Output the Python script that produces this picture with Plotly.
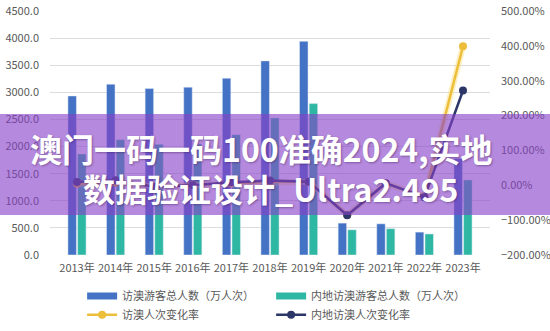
import plotly.graph_objects as go

# Macau visitor arrivals, 2013-2023
years = ["2013年", "2014年", "2015年", "2016年", "2017年", "2018年",
         "2019年", "2020年", "2021年", "2022年", "2023年"]
total_visitors = [2933, 3150, 3070, 3095, 3260, 3580, 3940, 588, 575, 422, 1780]      # 万人次
mainland_visitors = [1863, 2125, 2041, 2045, 2220, 2526, 2792, 465, 485, 388, 1384]   # 万人次
total_change = [0.044, 0.075, -0.026, 0.008, 0.054, 0.098, 0.101, -0.85, 0.05, -0.32, 3.99]
mainland_change = [0.095, 0.141, -0.04, 0.002, 0.085, 0.138, 0.105, -0.86, 0.06, -0.34, 2.72]

BLUE = "#4472C4"
TEAL = "#2EB8A4"
GOLD = "#EDBE3A"
NAVY = "#2C3767"
GREY = "#595959"
FONT = "Noto Sans CJK SC"

fig = go.Figure()

fig.add_bar(x=years, y=total_visitors, marker_color=BLUE, showlegend=False,
            name="访澳游客总人数（万人次）")
fig.add_bar(x=years, y=mainland_visitors, marker_color=TEAL, showlegend=False,
            name="内地访澳游客总人数（万人次）")

# soft halo under the gold line
fig.add_scatter(x=years, y=total_change, yaxis="y2", mode="lines",
                line=dict(color="rgba(248,222,120,0.45)", width=6),
                showlegend=False, hoverinfo="skip")
fig.add_scatter(x=years, y=total_change, yaxis="y2", mode="lines+markers",
                line=dict(color=GOLD, width=2.5), marker=dict(size=8, color=GOLD),
                name="访澳人次变化率", legend="legend2")
fig.add_scatter(x=years, y=mainland_change, yaxis="y2", mode="lines+markers",
                line=dict(color=NAVY, width=2.5), marker=dict(size=8, color=NAVY),
                name="内地访澳人次变化率", legend="legend2")

# legend keys for the bar series, drawn as wide flat swatches
fig.add_scatter(x=[None], y=[None], mode="lines", line=dict(color=BLUE, width=7),
                name="访澳游客总人数（万人次）", legend="legend")
fig.add_scatter(x=[None], y=[None], mode="lines", line=dict(color=TEAL, width=7),
                name="内地访澳游客总人数（万人次）", legend="legend")

legend_style = dict(orientation="h", xanchor="left", yanchor="middle",
                    entrywidth=144, entrywidthmode="pixels",
                    font=dict(family=FONT, size=11, color=GREY),
                    bgcolor="rgba(0,0,0,0)", itemwidth=30, tracegroupgap=0)

fig.update_layout(
    width=550, height=331,
    margin=dict(l=50, r=60, t=11, b=76, autoexpand=False),
    paper_bgcolor="white", plot_bgcolor="white",
    font=dict(family=FONT, size=11, color=GREY),
    barmode="group", bargap=0.5, bargroupgap=0.12,
    xaxis=dict(showgrid=False, showline=False, ticks="", ticklabelstandoff=5,
               tickangle=0, automargin=False,
               tickfont=dict(size=11, color=GREY)),
    yaxis=dict(range=[0, 4500], dtick=500, tickformat=".1f", automargin=False,
               gridcolor="#DCDCDC", gridwidth=1, zeroline=False, showline=False,
               ticklabelstandoff=10, tickfont=dict(size=11, color=GREY)),
    yaxis2=dict(range=[-2, 5], dtick=1, tickformat=".2%", overlaying="y",
                side="right", showgrid=False, zeroline=False, showline=False,
                automargin=False,
                ticklabelstandoff=10, tickfont=dict(size=11, color=GREY)),
    legend=dict(x=0.073, y=-0.168, **legend_style),
    legend2=dict(x=0.073, y=-0.245, **legend_style),
)

# translucent title banner across the middle of the chart
fig.add_shape(type="rect", xref="paper", yref="paper",
              x0=-0.2, x1=1.2, y0=0.164, y1=0.578,
              fillcolor="rgba(135,65,200,0.62)", line_width=0, layer="above")

title_font = dict(family=FONT, size=32, color="white", weight="bold",
                  shadow="1px 1px 2px rgba(60,30,90,0.45)")
fig.add_annotation(text="澳门一码一码100准确2024,实地", xref="paper", yref="paper",
                   x=0.48, y=0.438, xanchor="center", yanchor="middle",
                   showarrow=False, font=title_font)
fig.add_annotation(text="数据验证设计_Ultra2.495", xref="paper", yref="paper",
                   x=0.5, y=0.275, xanchor="center", yanchor="middle",
                   showarrow=False, font=title_font)

fig.write_html("out.html")
